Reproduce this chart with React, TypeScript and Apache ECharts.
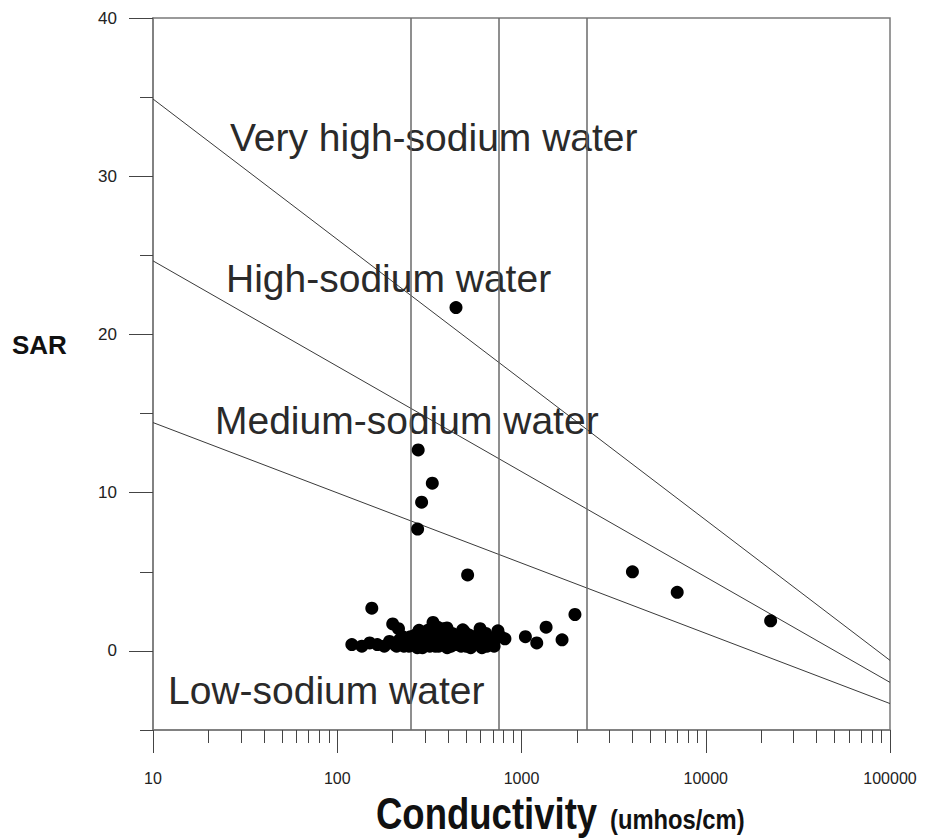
import React, { useEffect, useRef } from "react";
import * as echarts from "echarts";

// Conductivity (umhos/cm) and SAR of each sample
const ecValues = [
  441, 275, 328, 287, 273, 510, 154, 4000, 7000, 22500, 1950, 1360, 1660, 1210, 1050,
  120, 136, 150, 165, 180, 192, 200, 215, 205, 218, 230, 240, 250, 258, 265, 272, 280,
  288, 295, 300, 310, 318, 331, 335, 345, 355, 365, 375, 385, 395, 405, 420, 435, 450,
  470, 490, 510, 530, 555, 596, 600, 620, 650, 690, 745, 770, 813,
  210, 226, 245, 262, 278, 290, 305, 322, 340, 350, 360, 380, 394, 400, 415, 440, 460,
  480, 500, 520, 540, 570, 610, 640, 670, 710, 730,
];
const sarValues = [
  21.7, 12.7, 10.6, 9.4, 7.7, 4.8, 2.7, 5.0, 3.7, 1.9, 2.3, 1.5, 0.7, 0.5, 0.9,
  0.4, 0.3, 0.5, 0.4, 0.3, 0.6, 1.7, 1.4, 0.4, 0.7, 0.3, 0.6, 0.9, 0.4, 1.0, 0.2, 0.7,
  1.1, 0.4, 0.8, 1.3, 0.3, 1.8, 0.6, 1.2, 0.3, 0.9, 1.4, 0.5, 0.2, 0.8, 1.1, 0.4, 0.7,
  0.3, 1.2, 0.6, 0.2, 0.9, 1.4, 0.4, 0.8, 0.3, 0.6, 1.27, 0.9, 0.76,
  0.3, 0.9, 0.3, 0.6, 1.3, 0.2, 0.5, 0.9, 0.3, 1.5, 0.6, 0.9, 1.45, 1.2, 0.3, 1.0, 0.5,
  1.33, 0.3, 1.0, 0.5, 0.7, 0.2, 1.1, 0.5, 0.3, 0.8,
];

// salinity class boundaries (umhos/cm)
const salinityBounds = [250, 750, 2250];

// sodium hazard boundary lines [conductivity, SAR]
const veryHighLine = [[10, 34.88], [100000, -0.6]];
const highLine = [[10, 24.65], [100000, -1.99]];
const mediumLine = [[10, 14.43], [100000, -3.33]];

const yMajorTicks = [0, 10, 20, 30, 40];
const zoneLabels = [
  "Very high-sodium water",
  "High-sodium water",
  "Medium-sodium water",
  "Low-sodium water",
];
const xAxisTitle = "Conductivity";
const xAxisUnit = "(umhos/cm)";
const yAxisTitle = "SAR";

const AXIS_COLOR = "#7a7a7a";
const TICK_COLOR = "#444";

export default function App() {
  const ref = useRef<HTMLDivElement>(null);

  useEffect(() => {
    if (!ref.current) return;
    const chart = echarts.init(ref.current, null, { renderer: "svg" });

    const points = ecValues.map((v, i) => [v, sarValues[i]]);
    const labelPos = [
      [230, 137],
      [226, 278],
      [215, 420],
      [168, 690],
    ];

    const lineStyleBase = { color: "#3a3a3a", width: 1 };

    chart.setOption({
      animation: false,
      backgroundColor: "#fff",
      grid: {
        left: 153,
        right: 38,
        top: 18,
        bottom: 108,
        show: true,
        borderColor: AXIS_COLOR,
        borderWidth: 1.5,
        backgroundColor: "transparent",
      },
      xAxis: {
        type: "log",
        logBase: 10,
        min: 10,
        max: 100000,
        position: "bottom",
        axisLine: { show: true, onZero: false, lineStyle: { color: AXIS_COLOR, width: 1.5 } },
        axisTick: { show: true, inside: false, length: 23, lineStyle: { color: TICK_COLOR, width: 1 } },
        minorTick: { show: true, splitNumber: 9, length: 13, lineStyle: { color: TICK_COLOR, width: 1 } },
        axisLabel: {
          margin: 40,
          fontSize: 16,
          color: "#222",
          fontFamily: "Liberation Sans, Arial, sans-serif",
          formatter: (v: number) => String(Math.round(v)),
        },
        splitLine: { show: false },
        minorSplitLine: { show: false },
      },
      yAxis: [
        {
          type: "value",
          min: -5,
          max: 40,
          interval: 5,
          position: "left",
          axisLine: { show: true, onZero: false, lineStyle: { color: AXIS_COLOR, width: 1.5 } },
          axisTick: { show: true, inside: false, length: 13, lineStyle: { color: TICK_COLOR, width: 1 } },
          axisLabel: {
            customValues: yMajorTicks,
            margin: 36,
            fontSize: 17,
            color: "#222",
            fontFamily: "Liberation Sans, Arial, sans-serif",
          },
          splitLine: { show: false },
        },
        {
          type: "value",
          min: -5,
          max: 40,
          position: "left",
          offset: 0,
          axisLine: { show: false, onZero: false },
          axisTick: { show: true, inside: false, length: 24, customValues: yMajorTicks, lineStyle: { color: TICK_COLOR, width: 1 } },
          axisLabel: { show: false },
          splitLine: { show: false },
        },
      ],
      series: [
        {
          type: "line",
          data: veryHighLine,
          symbol: "none",
          lineStyle: lineStyleBase,
          z: 2,
        },
        {
          type: "line",
          data: highLine,
          symbol: "none",
          lineStyle: lineStyleBase,
          z: 2,
        },
        {
          type: "line",
          data: mediumLine,
          symbol: "none",
          lineStyle: lineStyleBase,
          z: 2,
          markLine: {
            silent: true,
            symbol: "none",
            label: { show: false },
            lineStyle: { color: "#6a6a6a", width: 1.5, type: "solid" },
            data: salinityBounds.map((v) => ({ xAxis: v })),
          },
        },
        {
          type: "scatter",
          data: points,
          symbol: "circle",
          symbolSize: 13,
          itemStyle: { color: "#000", opacity: 1 },
          z: 5,
        },
      ],
      graphic: [
        ...zoneLabels.map((t, i) => ({
          type: "text",
          x: labelPos[i][0],
          y: labelPos[i][1],
          z: 3,
          style: {
            text: t,
            fontSize: 39,
            fontFamily: "Liberation Sans, Arial, sans-serif",
            fill: "#2a2a2a",
            align: "left",
            verticalAlign: "middle",
          },
        })),
        {
          type: "text",
          x: 12,
          y: 345,
          style: {
            text: yAxisTitle,
            fontSize: 26,
            fontWeight: "bold",
            fontFamily: "Liberation Sans, Arial, sans-serif",
            fill: "#111",
            align: "left",
            verticalAlign: "middle",
          },
        },
        {
          type: "text",
          x: 376,
          y: 814,
          scaleX: 0.83,
          style: {
            text: xAxisTitle,
            fontSize: 44,
            fontWeight: "bold",
            fontFamily: "Liberation Sans, Arial, sans-serif",
            fill: "#111",
            align: "left",
            verticalAlign: "middle",
          },
        },
        {
          type: "text",
          x: 610,
          y: 819,
          scaleX: 0.88,
          style: {
            text: xAxisUnit,
            fontSize: 27,
            fontWeight: "bold",
            fontFamily: "Liberation Sans, Arial, sans-serif",
            fill: "#111",
            align: "left",
            verticalAlign: "middle",
          },
        },
      ],
    });

    return () => chart.dispose();
  }, []);

  return (
    <div
      ref={ref}
      style={{ position: "fixed", left: 0, top: 0, width: 928, height: 838 }}
    />
  );
}
